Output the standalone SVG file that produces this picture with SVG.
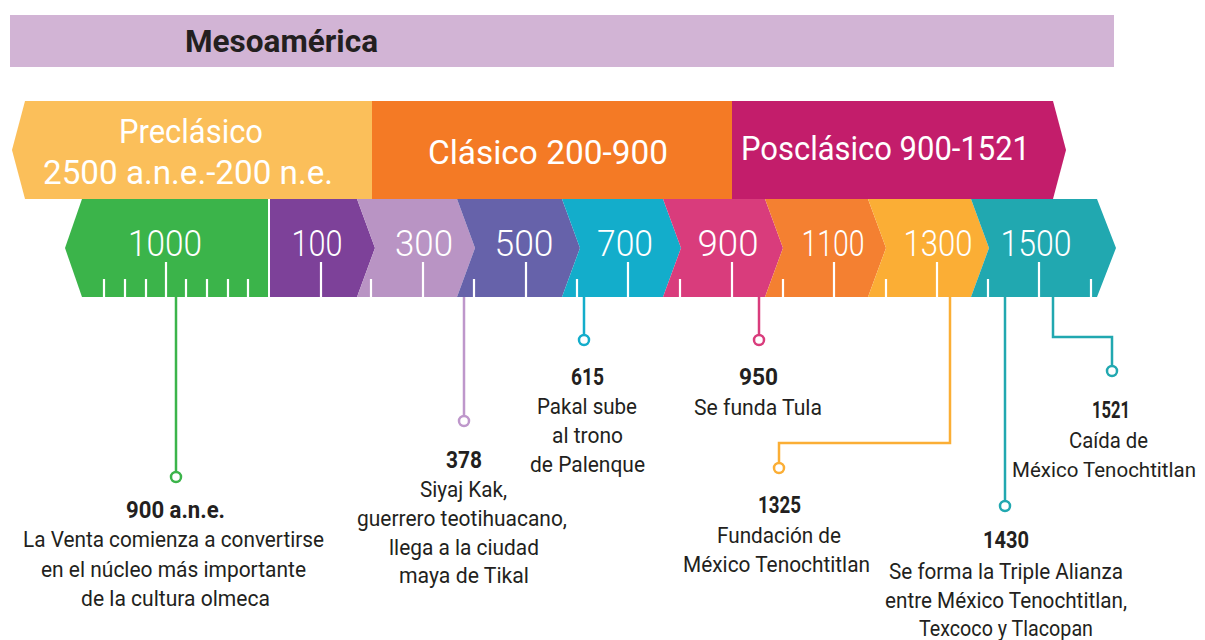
<svg xmlns="http://www.w3.org/2000/svg" width="1205" height="640" viewBox="0 0 1205 640">
<style>
text{font-family:Roboto,"Liberation Sans",sans-serif;}
.title{font-size:32px;font-weight:700;fill:#231F20;}
.period{font-size:34px;font-weight:400;fill:#fff;text-anchor:middle;}
.year{font-size:37px;font-weight:300;fill:#fff;text-anchor:middle;}
.tick{stroke:#fff;stroke-width:2.2;}
.ev{font-size:24px;font-weight:700;fill:#231F20;text-anchor:middle;}
.body{font-size:22px;font-weight:400;fill:#231F20;text-anchor:middle;}
.con{fill:none;stroke-width:2.5;}
.dot{fill:#fff;stroke-width:2.5;}
</style>
<rect width="1205" height="640" fill="#fff"/>
<g id="title">
<rect x="10" y="15" width="1104" height="52" fill="#D2B4D5"/>
<text class="title" x="185" y="52" textLength="193" lengthAdjust="spacingAndGlyphs">Mesoamérica</text>
</g>
<g id="preclasico">
<polygon points="25,101 372,101 372,199 25,199 12,150" fill="#FBBF5A"/>
<text class="period" x="191" y="143" textLength="144" lengthAdjust="spacingAndGlyphs">Preclásico</text>
<text class="period" x="188" y="184" textLength="290" lengthAdjust="spacingAndGlyphs">2500 a.n.e.-200 n.e.</text>
</g>
<g id="clasico">
<rect x="372" y="101" width="360" height="98" fill="#F47A25"/>
<text class="period" x="548" y="164" textLength="240" lengthAdjust="spacingAndGlyphs">Clásico 200-900</text>
</g>
<g id="posclasico">
<polygon points="732,101 1053,101 1066,150 1053,199 732,199" fill="#C31D6B"/>
<text class="period" x="885.5" y="160" textLength="289" lengthAdjust="spacingAndGlyphs">Posclásico 900-1521</text>
</g>
<g id="y1000">
<polygon points="82,199 268,199 268,297 82,297 65,248" fill="#3BB44A"/>
<text class="year" x="165" y="256" textLength="74" lengthAdjust="spacingAndGlyphs">1000</text>
</g>
<g id="y100">
<polygon points="270,199 357,199 375,248 357,297 270,297" fill="#7D4199"/>
<text class="year" x="317" y="256" textLength="51" lengthAdjust="spacingAndGlyphs">100</text>
</g>
<g id="y300">
<polygon points="357,199 457,199 475,248 457,297 357,297 375,248" fill="#B994C4"/>
<text class="year" x="424" y="256" textLength="58" lengthAdjust="spacingAndGlyphs">300</text>
</g>
<g id="y500">
<polygon points="457,199 562,199 580,248 562,297 457,297 475,248" fill="#6662AA"/>
<text class="year" x="524" y="256" textLength="59" lengthAdjust="spacingAndGlyphs">500</text>
</g>
<g id="y700">
<polygon points="562,199 663,199 681,248 663,297 562,297 580,248" fill="#13ADCB"/>
<text class="year" x="625" y="256" textLength="56" lengthAdjust="spacingAndGlyphs">700</text>
</g>
<g id="y900">
<polygon points="663,199 765,199 783,248 765,297 663,297 681,248" fill="#D93C7C"/>
<text class="year" x="728" y="256" textLength="61" lengthAdjust="spacingAndGlyphs">900</text>
</g>
<g id="y1100">
<polygon points="765,199 868,199 886,248 868,297 765,297 783,248" fill="#F48031"/>
<text class="year" x="833" y="256" textLength="63" lengthAdjust="spacingAndGlyphs">1100</text>
</g>
<g id="y1300">
<polygon points="868,199 971,199 989,248 971,297 868,297 886,248" fill="#FBAE35"/>
<text class="year" x="938" y="256" textLength="69" lengthAdjust="spacingAndGlyphs">1300</text>
</g>
<g id="y1500">
<polygon points="971,199 1097,199 1116,248 1097,297 971,297 989,248" fill="#21A8B0"/>
<text class="year" x="1036" y="256" textLength="71" lengthAdjust="spacingAndGlyphs">1500</text>
</g>
<g id="ticks" class="tick">
<path d="M104 279V297M125 279V297M146 279V297M166 262V297M186 279V297M207 279V297M228 279V297M248 279V297"/>
<path d="M321 262V297M423 262V297M526 262V297M628 262V297M732 262V297M834 262V297M937 262V297M1039 262V297"/>
<path d="M371 279V297M474 279V297M577 279V297M680 279V297M783 279V297M886 279V297M988 279V297M1091 279V297"/>
</g>
<g id="connectors">
<path class="con" stroke="#3BB44A" d="M176 297V472"/>
<circle class="dot" stroke="#3BB44A" cx="176" cy="477" r="5"/>
<path class="con" stroke="#BE97CB" d="M464 297V416"/>
<circle class="dot" stroke="#BE97CB" cx="464" cy="421" r="5"/>
<path class="con" stroke="#13ADCB" d="M584 297V335"/>
<circle class="dot" stroke="#13ADCB" cx="584" cy="340" r="5"/>
<path class="con" stroke="#D93C7C" d="M759 297V335"/>
<circle class="dot" stroke="#D93C7C" cx="759" cy="340" r="5"/>
<path class="con" stroke="#FBAE35" d="M950 297V443H779V463"/>
<circle class="dot" stroke="#FBAE35" cx="779" cy="468" r="5"/>
<path class="con" stroke="#21A8B0" d="M1005 297V501"/>
<circle class="dot" stroke="#21A8B0" cx="1005" cy="506" r="5"/>
<path class="con" stroke="#21A8B0" d="M1053 297V337H1112V366"/>
<circle class="dot" stroke="#21A8B0" cx="1112" cy="371" r="5"/>
</g>
<g id="ev900ane">
<text class="ev" x="175.5" y="518" textLength="99" lengthAdjust="spacingAndGlyphs">900 a.n.e.</text>
<text class="body" x="173.5" y="547" textLength="301" lengthAdjust="spacingAndGlyphs">La Venta comienza a convertirse</text>
<text class="body" x="173.5" y="577" textLength="265" lengthAdjust="spacingAndGlyphs">en el núcleo más importante</text>
<text class="body" x="175.5" y="606" textLength="189" lengthAdjust="spacingAndGlyphs">de la cultura olmeca</text>
</g>
<g id="ev378">
<text class="ev" x="464" y="468" textLength="36" lengthAdjust="spacingAndGlyphs">378</text>
<text class="body" x="463.5" y="497" textLength="87" lengthAdjust="spacingAndGlyphs">Siyaj Kak,</text>
<text class="body" x="462" y="526" textLength="210" lengthAdjust="spacingAndGlyphs">guerrero teotihuacano,</text>
<text class="body" x="464" y="555" textLength="150" lengthAdjust="spacingAndGlyphs">llega a la ciudad</text>
<text class="body" x="464" y="583" textLength="130" lengthAdjust="spacingAndGlyphs">maya de Tikal</text>
</g>
<g id="ev615">
<text class="ev" x="587.5" y="385" textLength="33" lengthAdjust="spacingAndGlyphs">615</text>
<text class="body" x="587" y="414" textLength="100" lengthAdjust="spacingAndGlyphs">Pakal sube</text>
<text class="body" x="587.5" y="443" textLength="71" lengthAdjust="spacingAndGlyphs">al trono</text>
<text class="body" x="587.5" y="472" textLength="115" lengthAdjust="spacingAndGlyphs">de Palenque</text>
</g>
<g id="ev950">
<text class="ev" x="758.5" y="385" textLength="39" lengthAdjust="spacingAndGlyphs">950</text>
<text class="body" x="758" y="415" textLength="128" lengthAdjust="spacingAndGlyphs">Se funda Tula</text>
</g>
<g id="ev1325">
<text class="ev" x="779.5" y="513" textLength="43" lengthAdjust="spacingAndGlyphs">1325</text>
<text class="body" x="779" y="543" textLength="124" lengthAdjust="spacingAndGlyphs">Fundación de</text>
<text class="body" x="776.5" y="572" textLength="187" lengthAdjust="spacingAndGlyphs">México Tenochtitlan</text>
</g>
<g id="ev1430">
<text class="ev" x="1006" y="548" textLength="46" lengthAdjust="spacingAndGlyphs">1430</text>
<text class="body" x="1006" y="579" textLength="234" lengthAdjust="spacingAndGlyphs">Se forma la Triple Alianza</text>
<text class="body" x="1006" y="608" textLength="242" lengthAdjust="spacingAndGlyphs">entre México Tenochtitlan,</text>
<text class="body" x="1006" y="636" textLength="174" lengthAdjust="spacingAndGlyphs">Texcoco y Tlacopan</text>
</g>
<g id="ev1521">
<text class="ev" x="1111" y="418" textLength="38" lengthAdjust="spacingAndGlyphs">1521</text>
<text class="body" x="1108.5" y="448" textLength="79" lengthAdjust="spacingAndGlyphs">Caída de</text>
<text class="body" x="1104" y="477" style="font-size:21px" textLength="184" lengthAdjust="spacingAndGlyphs">México Tenochtitlan</text>
</g>
</svg>
